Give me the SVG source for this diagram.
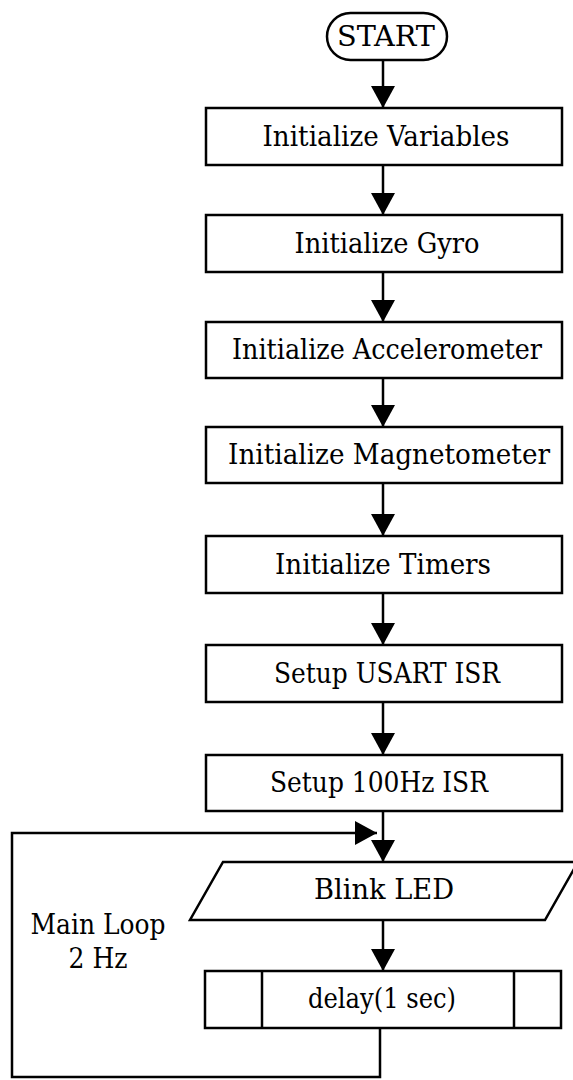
<svg xmlns="http://www.w3.org/2000/svg" width="573" height="1080" viewBox="0 0 573 1080">
<style>
.box{fill:#fff;stroke:#000;stroke-width:2.5}
.ln{fill:none;stroke:#000;stroke-width:2.5}
.t{font-family:"DejaVu Serif Condensed","DejaVu Serif",serif;font-size:28px;fill:#000;text-anchor:middle}
</style>
<defs>
<marker id="ah" markerUnits="userSpaceOnUse" markerWidth="23" markerHeight="25" refX="22" refY="12" orient="auto" viewBox="0 0 23 25">
<path d="M0,0 L22,12 L0,24 z" fill="#000"/>
</marker>
</defs>
<rect width="573" height="1080" fill="#fff"/>
<g id="connectors">
<line class="ln" x1="383" y1="60" x2="383" y2="108" marker-end="url(#ah)"/>
<line class="ln" x1="383" y1="165" x2="383" y2="215" marker-end="url(#ah)"/>
<line class="ln" x1="383" y1="272" x2="383" y2="322" marker-end="url(#ah)"/>
<line class="ln" x1="383" y1="378" x2="383" y2="427" marker-end="url(#ah)"/>
<line class="ln" x1="383" y1="483" x2="383" y2="536" marker-end="url(#ah)"/>
<line class="ln" x1="383" y1="593" x2="383" y2="645" marker-end="url(#ah)"/>
<line class="ln" x1="383" y1="702" x2="383" y2="755" marker-end="url(#ah)"/>
<line class="ln" x1="383" y1="811" x2="383" y2="862" marker-end="url(#ah)"/>
<line class="ln" x1="383" y1="920" x2="383" y2="971" marker-end="url(#ah)"/>
<path class="ln" d="M380,1028 V1077 H12 V833 H377" marker-end="url(#ah)"/>
</g>
<g id="start">
<rect class="box" x="327" y="13" width="120" height="47" rx="23.5" ry="23.5"/>
<text class="t" x="386" y="46" textLength="98" lengthAdjust="spacingAndGlyphs">START</text>
</g>
<g id="init-vars">
<rect class="box" x="206" y="108" width="356" height="57"/>
<text class="t" x="386" y="146" textLength="247" lengthAdjust="spacingAndGlyphs">Initialize Variables</text>
</g>
<g id="init-gyro">
<rect class="box" x="206" y="215" width="356" height="57"/>
<text class="t" x="387" y="253" textLength="185" lengthAdjust="spacingAndGlyphs">Initialize Gyro</text>
</g>
<g id="init-accel">
<rect class="box" x="206" y="322" width="356" height="56"/>
<text class="t" x="387" y="359" textLength="310" lengthAdjust="spacingAndGlyphs">Initialize Accelerometer</text>
</g>
<g id="init-mag">
<rect class="box" x="206" y="427" width="356" height="56"/>
<text class="t" x="389" y="464" textLength="322" lengthAdjust="spacingAndGlyphs">Initialize Magnetometer</text>
</g>
<g id="init-timers">
<rect class="box" x="206" y="536" width="356" height="57"/>
<text class="t" x="383" y="574" textLength="216" lengthAdjust="spacingAndGlyphs">Initialize Timers</text>
</g>
<g id="setup-usart">
<rect class="box" x="206" y="645" width="356" height="57"/>
<text class="t" x="387" y="683" textLength="226" lengthAdjust="spacingAndGlyphs">Setup USART ISR</text>
</g>
<g id="setup-100hz">
<rect class="box" x="206" y="755" width="356" height="56"/>
<text class="t" x="379" y="792" textLength="218" lengthAdjust="spacingAndGlyphs">Setup 100Hz ISR</text>
</g>
<g id="blink-led">
<polygon class="box" points="223,862 578,862 545,920 190,920"/>
<text class="t" x="384" y="899" textLength="140" lengthAdjust="spacingAndGlyphs">Blink LED</text>
</g>
<g id="delay">
<rect class="box" x="205" y="971" width="356" height="57"/>
<line class="ln" x1="262" y1="971" x2="262" y2="1028"/>
<line class="ln" x1="514" y1="971" x2="514" y2="1028"/>
<text class="t" x="382" y="1008" textLength="148" lengthAdjust="spacingAndGlyphs">delay(1 sec)</text>
</g>
<g id="loop-label">
<text class="t" x="98" y="934" textLength="135" lengthAdjust="spacingAndGlyphs">Main Loop</text>
<text class="t" x="98" y="968" textLength="59" lengthAdjust="spacingAndGlyphs">2 Hz</text>
</g>
</svg>
